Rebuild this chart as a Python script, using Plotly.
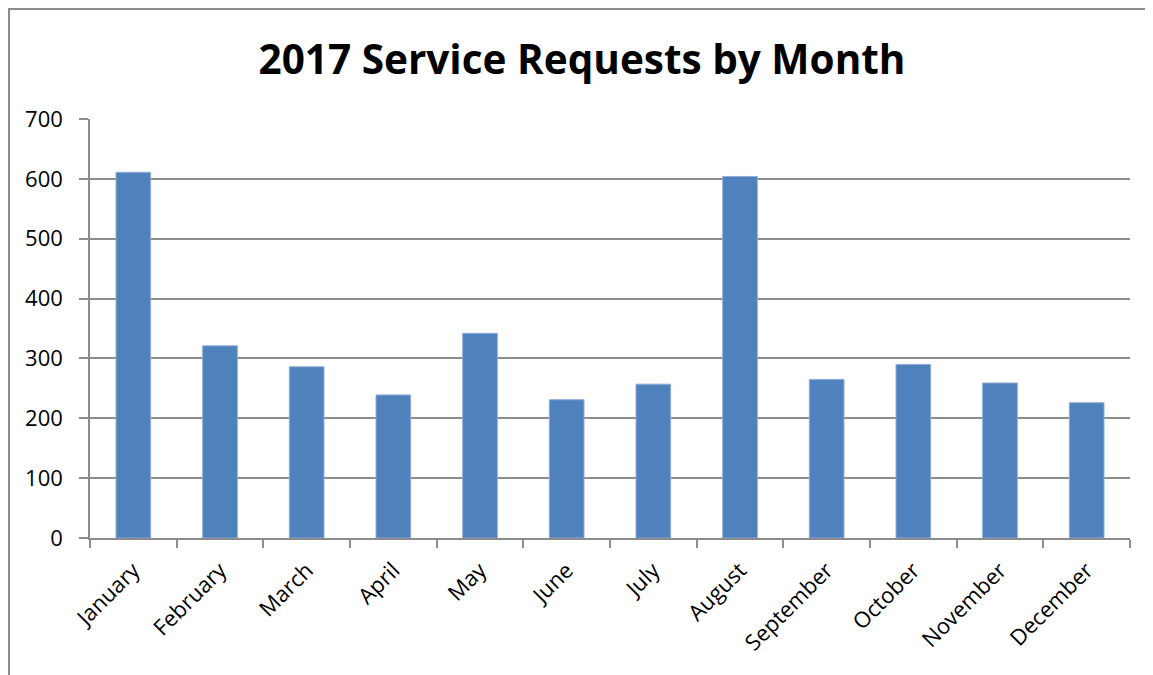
import plotly.graph_objects as go

months = ["January", "February", "March", "April", "May", "June", "July",
          "August", "September", "October", "November", "December"]
requests = [611, 321, 286, 239, 342, 231, 257, 604, 265, 290, 259, 226]
y_ticks = [0, 100, 200, 300, 400, 500, 600, 700]
title_text = "2017 Service Requests by Month"

# page offset of the figure inside the browser (body margin)
OFF = 8
W, H = 1153, 675
L, T = 90 - OFF, 119 - OFF
R = W - (1130 - OFF)
B = H - (538 - OFF)
pw, ph = W - L - R, H - T - B

fig = go.Figure(go.Bar(
    x=months, y=requests,
    marker=dict(color="#4F81BD", line=dict(color="#8EABD6", width=1)),
))

def px_x(p):
    return (p - OFF - L) / pw

def px_y(p):
    return (H - B - (p - OFF)) / ph

fig.update_layout(
    width=W, height=H,
    margin=dict(l=L, r=R, t=T, b=B, autoexpand=False),
    paper_bgcolor="white", plot_bgcolor="white",
    bargap=0.6,
    showlegend=False,
    font=dict(family="Open Sans", color="black"),
    title=dict(text="<b>%s</b>" % title_text, x=px_x(582), xref="paper",
               y=(H - (60 - OFF)) / H, yref="container", xanchor="center", yanchor="middle",
               font=dict(size=40.5, family="Open Sans", color="black")),
    xaxis=dict(
        tickangle=-45, tickfont=dict(size=22),
        showline=True, linecolor="#8C8C8C", linewidth=1.5,
        ticks="outside", ticklen=8, tickcolor="#8C8C8C", tickwidth=1.5,
        tickson="boundaries", showgrid=False, ticklabelstandoff=9,
    ),
    yaxis=dict(
        range=[0, 700], tickvals=y_ticks, tickfont=dict(size=22),
        showline=True, linecolor="#8C8C8C", linewidth=1.5,
        ticks="outside", ticklen=9, tickcolor="#8C8C8C", tickwidth=1.5,
        showgrid=True, gridcolor="#8C8C8C", gridwidth=1.5,
        zeroline=False, ticklabelstandoff=12,
    ),
    shapes=[dict(type="rect", xref="paper", yref="paper",
                 x0=px_x(OFF + 1), x1=px_x(1147), y0=px_y(800), y1=px_y(OFF + 1),
                 line=dict(color="#8C8C8C", width=2), fillcolor="rgba(0,0,0,0)",
                 layer="below")],
)

fig.write_html("out.html")
